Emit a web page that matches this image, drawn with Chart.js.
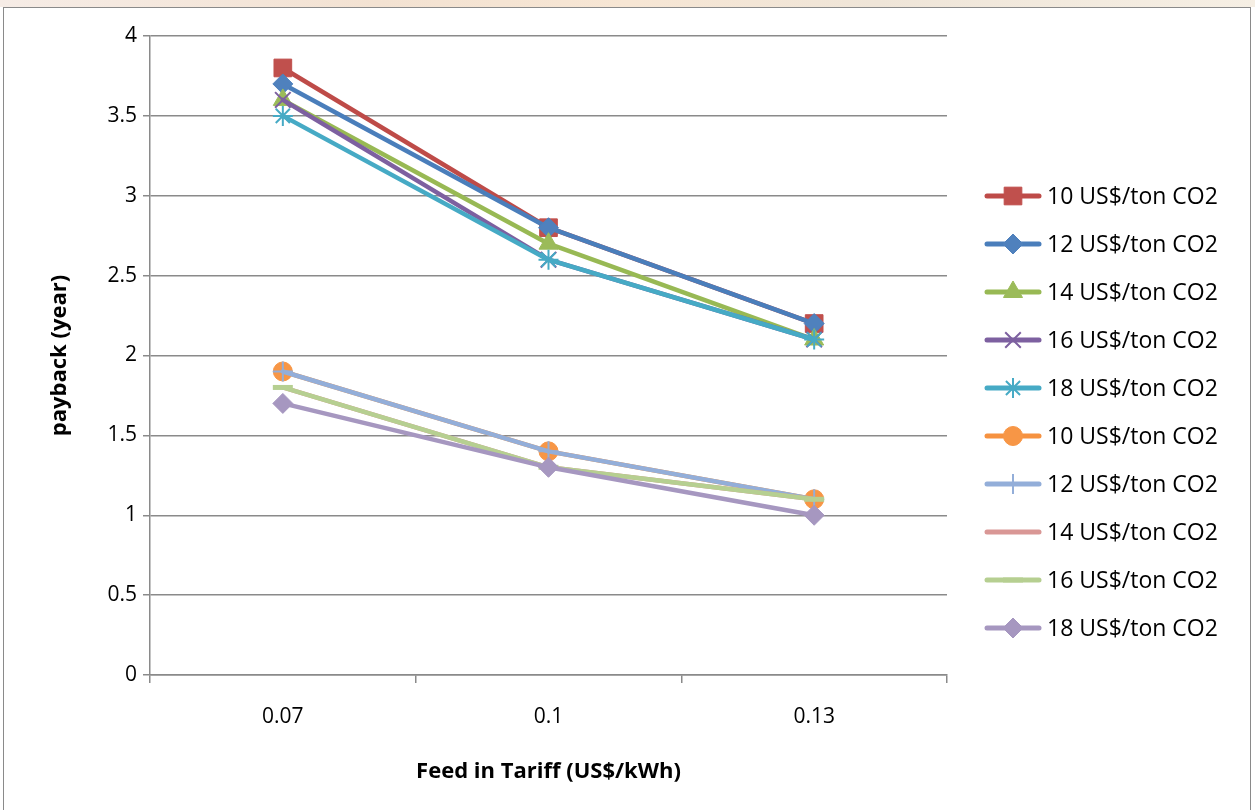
<!DOCTYPE html>
<html>
<head>
<meta charset="utf-8">
<script src="https://cdn.jsdelivr.net/npm/chart.js@4/dist/chart.umd.min.js"></script>
<style>
  html, body { margin: 0; padding: 0; background: #fff; }
  #wrap { position: absolute; left: 0; top: 0; width: 1255px; height: 810px; }
  #strip { position: absolute; left: 0; top: 0; width: 1255px; height: 7px;
    background: linear-gradient(90deg, #f6ece6 0%, #f3e2d2 30%, #f7e6d4 50%, #efe5d8 70%, #f6efe4 100%); }
  #frame { position: absolute; left: 3px; top: 7px; width: 1248px; height: 806px;
    border: 1.5px solid #8a8a8a; box-sizing: border-box; }
</style>
</head>
<body>
<div id="strip"></div>
<div id="frame"></div>
<div id="wrap"><canvas id="chart"></canvas></div>
<script>
// Payback period vs feed-in tariff, two groups of carbon prices

const tariffLabels = ['0.07', '0.1', '0.13'];
const seriesNames = [
  '10 US$/ton CO2', '12 US$/ton CO2', '14 US$/ton CO2', '16 US$/ton CO2', '18 US$/ton CO2',
  '10 US$/ton CO2', '12 US$/ton CO2', '14 US$/ton CO2', '16 US$/ton CO2', '18 US$/ton CO2'
];

// upper group
const upper10 = [3.8, 2.8, 2.2];
const upper12 = [3.7, 2.8, 2.2];
const upper14 = [3.6, 2.7, 2.1];
const upper16 = [3.6, 2.6, 2.1];
const upper18 = [3.5, 2.6, 2.1];
// lower group
const lower10 = [1.9, 1.4, 1.1];
const lower12 = [1.9, 1.4, 1.1];
const lower14 = [1.8, 1.3, 1.1];
const lower16 = [1.8, 1.3, 1.1];
const lower18 = [1.7, 1.3, 1.0];

const seriesValues = [upper10, upper12, upper14, upper16, upper18,
                      lower10, lower12, lower14, lower16, lower18];

// styling per series: line colour, marker colour, marker shape, radius, marker border
const seriesStyles = [
  { line: '#BE4B48', mark: '#C0504D', shape: 'rect',      r: 12.5, bw: 1 },
  { line: '#4A7EBB', mark: '#4F81BD', shape: 'rectRot',   r: 10,   bw: 1 },
  { line: '#98B954', mark: '#9BBB59', shape: 'triangle',  r: 11,   bw: 1 },
  { line: '#7D60A0', mark: '#7D60A0', shape: 'crossRot',  r: 11,   bw: 2 },
  { line: '#46AAC5', mark: '#46AAC5', shape: 'star',      r: 10,   bw: 2 },
  { line: '#F69240', mark: '#F79646', shape: 'circle',    r: 9.5,  bw: 1 },
  { line: '#93AED9', mark: '#93AED9', shape: 'cross',     r: 10,   bw: 2 },
  { line: '#D99795', mark: '#D99795', shape: 'circle',    r: 0,    bw: 0 },
  { line: '#B6CF91', mark: '#B6CF91', shape: 'line',      r: 10,   bw: 5 },
  { line: '#A697C0', mark: '#A697C0', shape: 'rectRot',   r: 10,   bw: 1 }
];

const FONT = '"Open Sans", "Noto Sans", sans-serif';
const LEGEND_X = 987;
const LEGEND_TOP = 196;
const LEGEND_GAP = 48;

const datasets = seriesValues.map((vals, i) => {
  const s = seriesStyles[i];
  return {
    label: seriesNames[i],
    data: vals,
    borderColor: s.line,
    backgroundColor: s.mark,
    borderWidth: 4.5,
    borderCapStyle: 'round',
    borderJoinStyle: 'round',
    tension: 0,
    pointStyle: s.shape,
    pointRadius: s.r,
    pointHoverRadius: s.r,
    pointBackgroundColor: s.mark,
    pointBorderColor: s.mark,
    pointBorderWidth: s.bw,
    order: seriesValues.length - i,   // later series drawn on top
    clip: false
  };
});

// legend on the right: line sample with marker, then text
const sideLegend = {
  id: 'sideLegend',
  afterDraw(chart) {
    const ctx = chart.ctx;
    ctx.save();
    chart.data.datasets.forEach((ds, i) => {
      const y = LEGEND_TOP + i * LEGEND_GAP;
      ctx.strokeStyle = ds.borderColor;
      ctx.lineWidth = 5;
      ctx.lineCap = 'round';
      ctx.beginPath();
      ctx.moveTo(LEGEND_X, y);
      ctx.lineTo(LEGEND_X + 52, y);
      ctx.stroke();
      if (ds.pointRadius > 0 && Chart.helpers && Chart.helpers.drawPoint) {
        ctx.fillStyle = ds.pointBackgroundColor;
        ctx.strokeStyle = ds.pointBorderColor;
        ctx.lineWidth = ds.pointBorderWidth;
        ctx.lineCap = 'butt';
        Chart.helpers.drawPoint(ctx, {
          pointStyle: ds.pointStyle,
          radius: ds.pointRadius,
          borderWidth: ds.pointBorderWidth,
          rotation: 0
        }, LEGEND_X + 26, y);
      }
      ctx.fillStyle = '#000';
      ctx.font = '23px ' + FONT;
      ctx.textAlign = 'left';
      ctx.textBaseline = 'middle';
      ctx.fillText(ds.label, LEGEND_X + 60, y + 1);
    });
    ctx.restore();
  }
};

new Chart(document.getElementById('chart'), {
  type: 'line',
  data: { labels: tariffLabels, datasets: datasets },
  plugins: [sideLegend],
  options: {
    responsive: true,
    maintainAspectRatio: false,
    animation: false,
    events: [],
    layout: { padding: { left: 0, right: 308, top: 36, bottom: 0 } },
    plugins: {
      legend: { display: false },
      tooltip: { enabled: false }
    },
    scales: {
      x: {
        type: 'category',
        offset: true,
        afterFit(scale) { scale.height = 135; },
        grid: {
          offset: true,
          drawOnChartArea: false,
          drawTicks: true,
          tickLength: 8,
          color: '#8a8a8a',
          lineWidth: 1.5
        },
        border: { display: true, color: '#8a8a8a', width: 1.5 },
        ticks: {
          color: '#000',
          padding: 21,
          font: { family: FONT, size: 21 }
        },
        title: {
          display: true,
          text: 'Feed in Tariff (US$/kWh)',
          color: '#000',
          padding: { top: 0, bottom: 25 },
          font: { family: FONT, size: 22, weight: 'bold' }
        }
      },
      y: {
        min: 0,
        max: 4,
        afterFit(scale) { scale.width = 150; },
        ticks: {
          stepSize: 0.5,
          color: '#000',
          padding: 6,
          font: { family: FONT, size: 21 },
          callback: (value) => String(value)
        },
        grid: {
          color: '#8a8a8a',
          lineWidth: 1.5,
          tickLength: 7
        },
        border: { display: true, color: '#8a8a8a', width: 1.5 },
        title: {
          display: true,
          text: 'payback (year)',
          color: '#000',
          padding: { top: 47, bottom: 0 },
          font: { family: FONT, size: 22, weight: 'bold' }
        }
      }
    }
  }
});
</script>
</body>
</html>
